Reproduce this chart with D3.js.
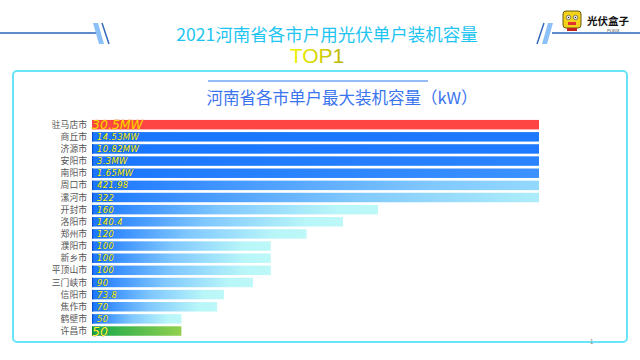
<!DOCTYPE html>
<html><head><meta charset="utf-8">
<script src="https://cdn.jsdelivr.net/npm/d3@7"></script>
<style>html,body{margin:0;padding:0;background:#fff;}svg{display:block;}</style>
</head><body>
<svg id="c" width="640" height="360"></svg>
<script>
const cities = ["驻马店市","商丘市","济源市","安阳市","南阳市","周口市","漯河市","开封市","洛阳市","郑州市","濮阳市","新乡市","平顶山市","三门峡市","信阳市","焦作市","鹤壁市","许昌市"];
const valuesKW = [30500,14530,10820,3300,1650,421.98,322,160,140.4,120,100,100,100,90,73.8,70,50,50];
const valueLabels = ["30.5MW","14.53MW","10.82MW","3.3MW","1.65MW","421.98","322","160","140.4","120","100","100","100","90","73.8","70","50","50"];
const axisMax = 250;
const title = "2021河南省各市户用光伏单户装机容量";
const subtitle = "河南省各市单户最大装机容量（kW）";

const svg = d3.select("#c");
const defs = svg.append("defs");
const font = "'Noto Sans CJK SC','Noto Sans',sans-serif";

// header lines and slashes
svg.append("line").attr("x1",0).attr("x2",97).attr("y1",33).attr("y2",33).attr("stroke","#2a64b8").attr("stroke-width",1.3);
svg.append("line").attr("x1",552).attr("x2",640).attr("y1",33).attr("y2",33).attr("stroke","#2a64b8").attr("stroke-width",1.3);
svg.append("polygon").attr("points","93,23 98,23 104,44 99,44").attr("fill","#8cc0f8");
svg.append("line").attr("x1",102).attr("y1",23).attr("x2",109).attr("y2",44).attr("stroke","#2a64b8").attr("stroke-width",1.4);
svg.append("polygon").attr("points","553,23 548,23 542,44 547,44").attr("fill","#8cc0f8");
svg.append("line").attr("x1",544).attr("y1",23).attr("x2",537).attr("y2",44).attr("stroke","#2a64b8").attr("stroke-width",1.4);

svg.append("text").attr("x",327).attr("y",41).attr("text-anchor","middle")
  .attr("font-family",font).attr("font-size",17.5).attr("fill","#1ec4f2").text(title);
const tg = defs.append("linearGradient").attr("id","topg").attr("x1",0).attr("x2",1).attr("y1",0).attr("y2",0);
tg.append("stop").attr("offset","0").attr("stop-color","#f4f400");
tg.append("stop").attr("offset","1").attr("stop-color","#b8b400");
svg.append("text").attr("x",317).attr("y",63).attr("text-anchor","middle")
  .attr("font-family","'Liberation Sans',Arial,sans-serif").attr("font-size",21).attr("fill","url(#topg)").text("TOP1");

// logo
const logo = svg.append("g");
logo.append("rect").attr("x",563).attr("y",11).attr("width",18).attr("height",17).attr("rx",3).attr("fill","#f2d21a").attr("stroke","#6a5a10").attr("stroke-width",1);
logo.append("circle").attr("cx",568.5).attr("cy",17.5).attr("r",2.2).attr("fill","#fff").attr("stroke","#333").attr("stroke-width",0.6);
logo.append("circle").attr("cx",575.5).attr("cy",17.5).attr("r",2.2).attr("fill","#fff").attr("stroke","#333").attr("stroke-width",0.6);
logo.append("circle").attr("cx",568.5).attr("cy",17.5).attr("r",0.8).attr("fill","#222");
logo.append("circle").attr("cx",575.5).attr("cy",17.5).attr("r",0.8).attr("fill","#222");
logo.append("rect").attr("x",568).attr("y",22).attr("width",8).attr("height",3).attr("fill","#e03030");
logo.append("rect").attr("x",567).attr("y",28).attr("width",10).attr("height",3).attr("fill","#c02020");
logo.append("text").attr("x",587).attr("y",25).attr("font-family",font).attr("font-weight","bold").attr("font-size",10.5).attr("fill","#111").text("光伏盒子");
logo.append("text").attr("x",607).attr("y",32).attr("font-family",font).attr("font-size",3.5).attr("fill","#333").text("PV-BOX");

// box
svg.append("rect").attr("x",13).attr("y",71).attr("width",614).attr("height",271).attr("rx",4)
  .attr("fill","none").attr("stroke","#6ae4f8").attr("stroke-width",2);
svg.append("line").attr("x1",208).attr("x2",428).attr("y1",81).attr("y2",81).attr("stroke","#2f7bf0").attr("stroke-width",1.2);
svg.append("text").attr("x",342).attr("y",104).attr("text-anchor","middle")
  .attr("font-family",font).attr("font-size",16.5).attr("fill","#3a74ee").text(subtitle);
svg.append("text").attr("x",590).attr("y",344).attr("font-family",font).attr("font-size",6).attr("fill","#888").text("1");

// scales
const x = d3.scaleLinear().domain([0,axisMax]).range([92,539]).clamp(true);
const xRaw = d3.scaleLinear().domain([0,axisMax]).range([92,539]);
const y = d3.scaleBand().domain(cities).range([118.6,337.1]).paddingInner(0.22).paddingOuter(0.11);

const data = cities.map((c,i)=>({c, v:valuesKW[i], lab:valueLabels[i], i}));

// gradients
data.forEach(d=>{
  const g = defs.append("linearGradient").attr("id","g"+d.i).attr("gradientUnits","userSpaceOnUse")
    .attr("x1",x(0)).attr("x2",xRaw(d.v)).attr("y1",0).attr("y2",0);
  let stops;
  if (d.i===0) stops=[[0,"#ff4444"],[1,"#ff4444"]];
  else if (d.i===cities.length-1) stops=[[0,"#14a84a"],[1,"#92d04e"]];
  else stops=[[0,"#1a76ff"],[0.45,"#80c8ff"],[0.85,"#b8f6f8"],[1,"#bef8f8"]];
  stops.forEach(s=>g.append("stop").attr("offset",s[0]).attr("stop-color",s[1]));
});

svg.append("g").selectAll("rect").data(data).join("rect")
  .attr("x",x(0)).attr("y",d=>y(d.c)).attr("width",d=>x(d.v)-x(0)).attr("height",y.bandwidth())
  .attr("fill",d=>"url(#g"+d.i+")");
svg.append("g").selectAll("rect").data(data.filter(d=>d.i>0)).join("rect")
  .attr("x",x(0)).attr("y",d=>y(d.c)).attr("width",1.2).attr("height",y.bandwidth())
  .attr("fill",d=>d.i===cities.length-1?"#0a8a30":"#0a50d0");

// category labels
svg.append("g").selectAll("text").data(data).join("text")
  .attr("x",87).attr("y",d=>y(d.c)+y.bandwidth()/2).attr("dy","0.35em").attr("text-anchor","end")
  .attr("font-family",font).attr("font-size",8.8).attr("fill","#555").text(d=>d.c);

// value labels
svg.append("g").selectAll("text").data(data).join("text")
  .attr("x",d=>(d.i===0||d.i===cities.length-1)?92:97)
  .attr("y",d=>y(d.c)+y.bandwidth()/2).attr("dy","0.36em")
  .attr("font-family","'DejaVu Sans',sans-serif").attr("font-style","italic")
  .attr("font-size",d=>(d.i===0||d.i===cities.length-1)?12.5:8.5)
  .attr("letter-spacing",d=>(d.i===0||d.i===cities.length-1)?0:0.3)
  .attr("fill",d=>d.i===0?"#ffd400":"#ffff20")
  .attr("stroke",d=>d.i===0?"#e07000":"#1a3c90").attr("stroke-width",d=>d.i===0?0.4:0.5)
  .attr("paint-order","stroke")
  .text(d=>d.lab);
</script>
</body></html>
